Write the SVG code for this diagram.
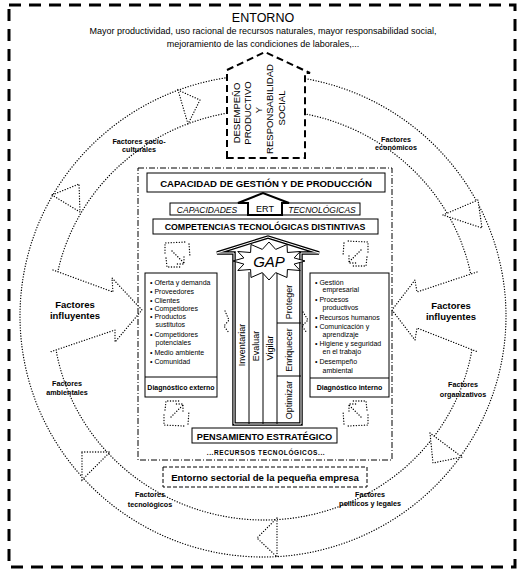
<svg xmlns="http://www.w3.org/2000/svg" width="525" height="571" viewBox="0 0 525 571">
<style>
.t{font-family:"Liberation Sans",Arial,sans-serif;fill:#000}
.b{font-weight:bold}
.i{font-style:italic}
.m{text-anchor:middle}
.dot{fill:none;stroke:#000;stroke-width:1.3;stroke-dasharray:0.1 2.6;stroke-linecap:round}
.dotw{fill:#fff;stroke:#000;stroke-width:1.3;stroke-dasharray:0.1 2.6;stroke-linecap:round}
.box{fill:#fff;stroke:#000;stroke-width:1}
.rl{font-size:7.2px}
.li{font-size:7px}
.col{font-size:9px}
</style>
<defs>
<g id="icono">
<path class="dot" d="M-12,-2 L-12,-12 L8,-13 M12,-11 L13,2 M-11,3 L-10,12 L4,12 M-5,-4 L7,8 M7,2 L7,9 L0,9"/>
</g>
</defs>
<rect width="525" height="571" fill="#fff"/>
<g id="entorno">
<rect x="9" y="5" width="506" height="562" fill="none" stroke="#000" stroke-width="3" stroke-dasharray="12 8"/>
<text class="t m" x="263" y="22" font-size="12.5">ENTORNO</text>
<text class="t m" x="263" y="34" font-size="9">Mayor productividad, uso racional de recursos naturales, mayor responsabilidad social,</text>
<text class="t m" x="263" y="47" font-size="9">mejoramiento de las condiciones de laborales,...</text>
</g>
<g id="anillo">
<ellipse class="dot" cx="263" cy="316" rx="243" ry="241"/>
<ellipse class="dot" cx="264" cy="315" rx="211" ry="205"/>
<polygon class="dotw" points="277,518 257,538 277,557"/>
<polygon class="dotw" points="82,452 110,452 82,480"/>
<polygon class="dotw" points="430,433 433,463 462,457"/>
<polygon class="dotw" points="443,215 478,200 482,228"/>
<polygon class="dotw" points="178,90 188,124 200,100"/>
<polygon class="dotw" points="52,195 80,212 79,184"/>
</g>
<g id="factores-ring" class="t b rl m">
<text x="139" y="144">Factores socio-</text><text x="139" y="152">culturales</text>
<text x="396" y="142">Factores</text><text x="396" y="150">económicos</text>
<text x="67" y="386">Factores</text><text x="67" y="395">ambientales</text>
<text x="463" y="387">Factores</text><text x="463" y="397">organizativos</text>
<text x="150" y="497">Factores</text><text x="150" y="507">tecnológicos</text>
<text x="370" y="497">Factores</text><text x="370" y="506">políticos y legales</text>
</g>
<g id="influyentes-izq">
<path d="M53,270 L113,292 L112,278 L142,310 L115,342 L115,330 L50,352 Z" fill="#fff" stroke="none"/>
<path class="dot" d="M53,270 L113,292 L112,278 L142,310 L115,342 L115,330 L50,352"/>
<text class="t b m" x="75" y="308" font-size="9.5">Factores</text>
<text class="t b m" x="75" y="319" font-size="9.5">influyentes</text>
</g>
<g id="influyentes-der">
<path d="M477,272 L417,292 L415,280 L392,310 L415,340 L417,328 L478,352 Z" fill="#fff" stroke="none"/>
<path class="dot" d="M477,272 L417,292 L415,280 L392,310 L415,340 L417,328 L478,352"/>
<text class="t b m" x="451" y="309" font-size="9.5">Factores</text>
<text class="t b m" x="451" y="320" font-size="9.5">influyentes</text>
</g>
<g id="desempeno">
<path d="M227,158 V70 L265,52 L310,73 H305 V158 Z" fill="#fff" stroke="#000" stroke-width="2" stroke-dasharray="7 4"/>
<g class="t" font-size="9.5">
<text class="m" transform="translate(237,113) rotate(-90)" dy="0.35em">DESEMPEÑO</text>
<text class="m" transform="translate(248,113) rotate(-90)" dy="0.35em">PRODUCTIVO</text>
<text class="m" transform="translate(259,110) rotate(-90)" dy="0.35em">Y</text>
<text class="m" transform="translate(270,109) rotate(-90)" dy="0.35em">RESPONSABILIDAD</text>
<text class="m" transform="translate(282,108) rotate(-90)" dy="0.35em">SOCIAL</text>
</g>
</g>
<g id="marco-interno">
<rect x="138" y="168" width="254" height="292" fill="none" stroke="#000" stroke-width="1" stroke-dasharray="6 2 1 2"/>
</g>
<g id="capacidad">
<rect class="box" x="147" y="173" width="238" height="19"/>
<text class="t b m" x="266" y="186.5" font-size="9.6">CAPACIDAD DE GESTIÓN Y DE PRODUCCIÓN</text>
</g>
<g id="capacidades">
<rect class="box" x="170" y="203" width="190" height="12"/>
<polygon points="248,215 248,203 238,203 263,193 289,203 282,203 282,215" fill="#fff" stroke="#000" stroke-width="2"/>
<text class="t i m" x="207" y="212.5" font-size="8.5">CAPACIDADES</text>
<text class="t m" x="265" y="212" font-size="9">ERT</text>
<text class="t i m" x="322" y="212.5" font-size="8.5">TECNOLÓGICAS</text>
</g>
<g id="competencias">
<rect class="box" x="153" y="219" width="225" height="15"/>
<text class="t b m" x="265" y="230" font-size="8.8">COMPETENCIAS TECNOLÓGICAS DISTINTIVAS</text>
</g>
<g id="gap">
<polygon points="234,424 234,253 217,253 268,237 319,253 301,253 301,424" fill="#fff" stroke="#000" stroke-width="3.5" stroke-linejoin="miter"/>
<polygon points="234,424 234,253 217,253 268,237 319,253 301,253 301,424" fill="none" stroke="#fff" stroke-width="1"/>
<g stroke="#000" stroke-width="1">
<line x1="249" y1="272" x2="249" y2="424"/>
<line x1="263" y1="272" x2="263" y2="424"/>
<line x1="277" y1="272" x2="277" y2="424"/>
<line x1="277" y1="323" x2="301" y2="323"/>
<line x1="277" y1="376" x2="301" y2="376"/>
</g>
<polygon points="305,261 294.1,264.1 300.2,270.5 287.4,269.5 287,277.5 275.7,272.6 269,280 262.3,272.6 251,277.5 250.6,269.5 237.8,270.5 243.9,264.1 233,261 243.9,257.9 237.8,251.5 250.6,252.5 251,244.5 262.3,249.4 269,242 275.7,249.4 287,244.5 287.4,252.5 300.2,251.5 294.1,257.9" fill="#fff" stroke="#000" stroke-width="1"/>
<text class="t i m" x="269" y="267" font-size="15">GAP</text>
<g class="t col m">
<text transform="translate(241.5,345) rotate(-90)" dy="0.35em">Inventariar</text>
<text transform="translate(256,346) rotate(-90)" dy="0.35em">Evaluar</text>
<text transform="translate(270,348) rotate(-90)" dy="0.35em">Vigilar</text>
<text transform="translate(289,302) rotate(-90)" dy="0.35em">Proteger</text>
<text transform="translate(289,350) rotate(-90)" dy="0.35em">Enriquecer</text>
<text transform="translate(289,400) rotate(-90)" dy="0.35em">Optimizar</text>
</g>
</g>
<g id="diag-externo">
<rect class="box" x="145" y="273" width="72" height="124"/>
<line x1="145" y1="377" x2="217" y2="377" stroke="#000"/>
<g class="t li">
<text x="150" y="285">•  Oferta y demanda</text>
<text x="150" y="293.5">•  Proveedores</text>
<text x="150" y="302.5">•  Clientes</text>
<text x="150" y="311">•  Competidores</text>
<text x="150" y="319">•  Productos</text>
<text x="155.5" y="327">sustitutos</text>
<text x="150" y="336.5">•  Competidores</text>
<text x="155.5" y="345">potenciales</text>
<text x="150" y="355">•  Medio ambiente</text>
<text x="150" y="364">•  Comunidad</text>
</g>
<text class="t b m" x="181" y="390" font-size="7">Diagnóstico externo</text>
</g>
<g id="diag-interno">
<rect class="box" x="310" y="273" width="79" height="124"/>
<line x1="310" y1="378" x2="389" y2="378" stroke="#000"/>
<g class="t li">
<text x="315" y="285">•  Gestión</text>
<text x="322.5" y="292">empresarial</text>
<text x="315" y="301.5">•  Procesos</text>
<text x="322.5" y="309.5">productivos</text>
<text x="315" y="319.5">•  Recursos humanos</text>
<text x="315" y="328.5">•  Comunicación y</text>
<text x="322.5" y="336.5">aprendizaje</text>
<text x="315" y="345.5">•  Higiene y seguridad</text>
<text x="322.5" y="354">en el trabajo</text>
<text x="315" y="364">•  Desempeño</text>
<text x="322.5" y="372.5">ambiental</text>
</g>
<text class="t b m" x="349.5" y="390" font-size="7">Diagnóstico interno</text>
</g>
<g id="pensamiento">
<rect class="box" x="192" y="428" width="145" height="15"/>
<text class="t b m" x="264.5" y="439.5" font-size="9.2">PENSAMIENTO ESTRATÉGICO</text>
<text class="t b m" x="266" y="455" font-size="6.5" letter-spacing="0.6">...RECURSOS TECNOLÓGICOS...</text>
</g>
<g id="entorno-sectorial">
<rect x="163" y="467" width="204" height="20" fill="#fff" stroke="#000" stroke-width="1" stroke-dasharray="4 2"/>
<text class="t b m" x="265" y="480.5" font-size="9.6">Entorno sectorial de la pequeña empresa</text>
</g>
<g id="iconos">
<use href="#icono" transform="translate(177,255)"/>
<use href="#icono" transform="translate(356,254) scale(-1,1)"/>
<use href="#icono" transform="translate(176,413) scale(1,-1)"/>
<use href="#icono" transform="translate(356,413) scale(-1,-1)"/>
<path class="dot" d="M225,311 L229,320 L224,326 L229,333"/>
<path class="dot" d="M303,312 L308,320 L302,326 L307,333"/>
</g>
</svg>
